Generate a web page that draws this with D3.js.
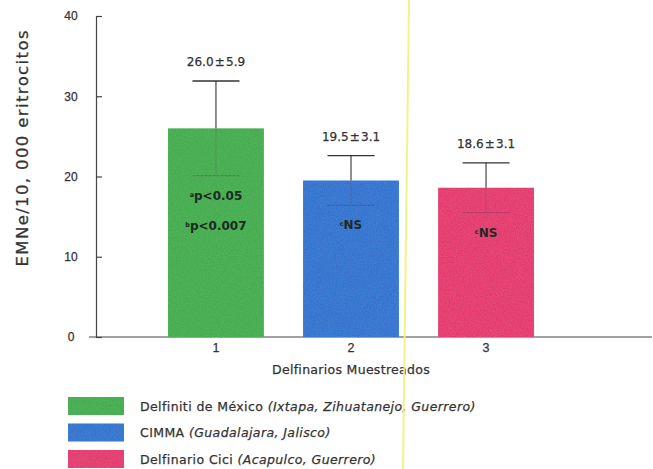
<!DOCTYPE html>
<html>
<head>
<meta charset="utf-8">
<script src="https://cdn.jsdelivr.net/npm/d3@7"></script>
<style>
  html, body { margin: 0; padding: 0; background: #ffffff; }
  svg { display: block; font-family: "DejaVu Sans", sans-serif; }
  .ink { stroke: #333333; stroke-width: 0.25px; }
</style>
</head>
<body>
<svg id="chart" width="653" height="469"></svg>
<script>
// Micronucleated erythrocytes (EMNe per 10,000) by sampled dolphinarium
const categories = ["1", "2", "3"];
const means = [26.0, 19.5, 18.6];
const errors = [5.9, 3.1, 3.1];
const colors = ["#38ab44", "#1a6fcf", "#e42a6b"];
const notes = [
  [["a", "p<0.05"], ["b", "p<0.007"]],
  [["c", "NS"]],
  [["c", "NS"]]
];
const yTicks = [0, 10, 20, 30, 40];
const places = ["Delfiniti de México", "CIMMA", "Delfinario Cici"];
const locations = ["(Ixtapa, Zihuatanejo, Guerrero)", "(Guadalajara, Jalisco)", "(Acapulco, Guerrero)"];
const yTitle = "EMNe/10, 000 eritrocitos";
const xTitle = "Delfinarios Muestreados";

const svg = d3.select("#chart");
const textColor = "#333333";

const y = d3.scaleLinear().domain([0, 40]).range([337, 16]);
const x = d3.scaleBand().domain(categories)
  .range([100.5, 601.5]).paddingInner(0.29).paddingOuter(0.5);

// light grain used on the coloured fills
const defs = svg.append("defs");
const grain = defs.append("filter").attr("id", "grain")
  .attr("x", 0).attr("y", 0).attr("width", 1).attr("height", 1);
grain.append("feTurbulence").attr("type", "fractalNoise")
  .attr("baseFrequency", 0.85).attr("numOctaves", 2).attr("seed", 4).attr("result", "noise");
grain.append("feColorMatrix").attr("in", "noise").attr("type", "matrix")
  .attr("values", "0 0 0 0 1  0 0 0 0 1  0 0 0 0 1  0 0 0 0.07 0").attr("result", "speck");
grain.append("feComposite").attr("in", "speck").attr("in2", "SourceGraphic").attr("operator", "in").attr("result", "speckIn");
grain.append("feMerge").selectAll("feMergeNode")
  .data(["SourceGraphic", "speckIn"]).join("feMergeNode").attr("in", d => d);

// baseline running across the plot
svg.append("line")
  .attr("x1", 89).attr("x2", 652)
  .attr("y1", y(0)).attr("y2", y(0))
  .attr("stroke", "#444").attr("stroke-width", 1.2);

// y axis with inward ticks
const yAxis = svg.append("g")
  .attr("transform", "translate(96,0)")
  .call(d3.axisLeft(y).tickValues(yTicks).tickSizeInner(-6).tickSizeOuter(0).tickFormat(d3.format("d")));
yAxis.select(".domain").attr("stroke", "#444").attr("stroke-width", 1.2);
yAxis.selectAll(".tick line").attr("stroke", "#444").attr("stroke-width", 1.2);
yAxis.selectAll(".tick text")
  .attr("x", -25).attr("text-anchor", "middle").attr("class", "ink")
  .attr("fill", textColor).style("font-size", "12px");

svg.append("text")
  .attr("transform", "translate(28,148.5) rotate(-90)")
  .attr("text-anchor", "middle").attr("class", "ink")
  .attr("fill", textColor).style("font-size", "16.5px")
  .attr("textLength", 236).attr("lengthAdjust", "spacing")
  .text(yTitle);

// bars
const rows = categories.map((c, i) => ({ c, m: means[i], e: errors[i], col: colors[i], notes: notes[i] }));
const bar = svg.append("g").selectAll("g").data(rows).join("g");

bar.append("rect")
  .attr("x", d => x(d.c)).attr("width", x.bandwidth())
  .attr("y", d => y(d.m)).attr("height", d => y(0) - y(d.m))
  .attr("fill", d => d.col).attr("filter", "url(#grain)");

const cx = d => x(d.c) + x.bandwidth() / 2;
const capHalf = 23.5;

// upper whisker and cap
bar.append("line")
  .attr("x1", cx).attr("x2", cx)
  .attr("y1", d => y(d.m)).attr("y2", d => y(d.m + d.e))
  .attr("stroke", "#333").attr("stroke-width", 1.1);
bar.append("line")
  .attr("x1", d => cx(d) - capHalf).attr("x2", d => cx(d) + capHalf)
  .attr("y1", d => y(d.m + d.e)).attr("y2", d => y(d.m + d.e))
  .attr("stroke", "#333").attr("stroke-width", 1.3);

// faint lower whisker inside the bar
bar.append("line")
  .attr("x1", cx).attr("x2", cx)
  .attr("y1", d => y(d.m)).attr("y2", d => y(d.m - d.e))
  .attr("stroke", "#5a4a5a").attr("stroke-width", 0.8).attr("stroke-opacity", 0.3);
bar.append("line")
  .attr("x1", d => cx(d) - capHalf).attr("x2", d => cx(d) + capHalf)
  .attr("y1", d => y(d.m - d.e)).attr("y2", d => y(d.m - d.e))
  .attr("stroke", "#6a3a5a").attr("stroke-width", 1).attr("stroke-opacity", 0.5)
  .attr("stroke-dasharray", "3,1");

// mean ± sd labels
bar.append("text")
  .attr("x", cx).attr("y", d => y(d.m + d.e) - 15)
  .attr("text-anchor", "middle").attr("class", "ink")
  .attr("fill", textColor).style("font-size", "12px")
  .text(d => `${d.m.toFixed(1)}\u200a±\u200a${d.e.toFixed(1)}`);

// significance notes inside the bars
bar.each(function (d) {
  const g = d3.select(this);
  d.notes.forEach((n, j) => {
    const t = g.append("text")
      .attr("x", cx(d)).attr("y", y(d.m - d.e) + 24 + j * 30)
      .attr("text-anchor", "middle")
      .attr("fill", "#1d2a22").style("font-size", "12px").style("font-weight", "bold");
    t.append("tspan").style("font-size", "6.5px").attr("dy", -3).text(n[0]);
    t.append("tspan").attr("dy", 3).text(n[1]);
  });
});

// category labels
const xAxis = svg.append("g")
  .attr("transform", `translate(0,${y(0)})`)
  .call(d3.axisBottom(x).tickSize(0).tickPadding(6));
xAxis.select(".domain").remove();
xAxis.selectAll(".tick text").attr("fill", textColor).attr("class", "ink").style("font-size", "12.5px");

svg.append("text")
  .attr("x", x("2") + x.bandwidth() / 2).attr("y", 374)
  .attr("text-anchor", "middle").attr("class", "ink")
  .attr("fill", textColor).style("font-size", "12.5px").style("letter-spacing", "0.3px")
  .text(xTitle);

// legend
const legend = svg.append("g").selectAll("g").data(places).join("g")
  .attr("transform", (d, i) => `translate(68,${397 + i * 26.5})`);
legend.append("rect")
  .attr("width", 56).attr("height", 18)
  .attr("fill", (d, i) => colors[i]).attr("filter", "url(#grain)");
const lt = legend.append("text")
  .attr("x", 72).attr("y", 13.5).attr("class", "ink")
  .attr("fill", textColor).style("font-size", "12.5px").style("letter-spacing", "0.4px");
lt.append("tspan").text(d => d + " ");
lt.append("tspan").style("font-style", "italic").text((d, i) => locations[i]);

// yellow marker stroke across the page
svg.append("line")
  .attr("x1", 409).attr("y1", 0).attr("x2", 403).attr("y2", 469)
  .attr("stroke", "#f4f07c").attr("stroke-width", 2).attr("stroke-opacity", 0.9);
</script>
</body>
</html>
